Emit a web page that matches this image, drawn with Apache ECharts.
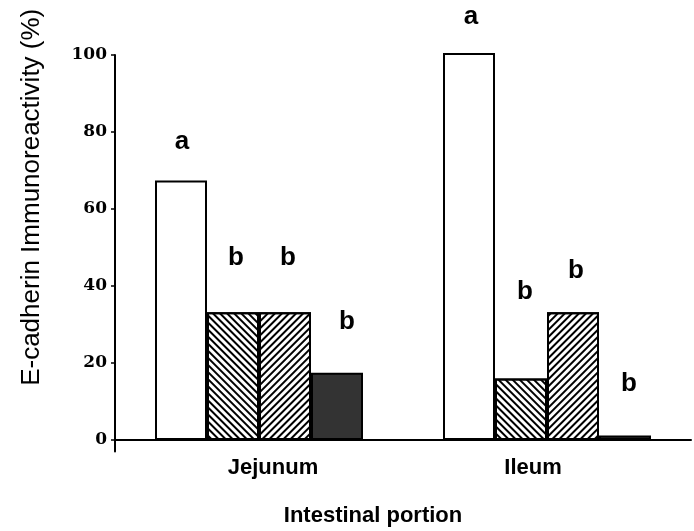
<!DOCTYPE html>
<html>
<head>
<meta charset="utf-8">
<title>E-cadherin immunoreactivity</title>
<script src="https://cdn.jsdelivr.net/npm/echarts@6/dist/echarts.min.js"></script>
<style>
  html, body { margin: 0; padding: 0; background: #ffffff; }
  #chart { width: 694px; height: 531px; }
</style>
</head>
<body>
<div id="chart"></div>
<script>
// Intestinal portions on the x axis
const portions = ['Jejunum', 'Ileum'];

// Immunoreactivity (%) per treatment group, one value per portion
const openValues = [67.4, 100.5];
const hatchDownValues = [33.2, 16.0];
const hatchUpValues = [33.2, 33.2];
const solidValues = [17.5, 1.2];

// Significance letters above each bar
const openLetters = ['a', 'a'];
const hatchDownLetters = ['b', 'b'];
const hatchUpLetters = ['b', 'b'];
const solidLetters = ['b', 'b'];

// Y axis tick values
const yTicks = [0, 20, 40, 60, 80, 100];

// Letter placement relative to the top of its bar, [dx, dy] in px
const letterOffsets = {
  open: [[1, -26], [2, -23]],
  hatchDown: [[3, -41], [4, -74]],
  hatchUp: [[3, -41], [3, -28]],
  solid: [[10, -38], [4, -39]]
};

const FONT = '"Liberation Sans", Arial, sans-serif';

function hatch(rotation) {
  return {
    symbol: 'rect',
    symbolSize: 1,
    dashArrayX: [1, 0],
    dashArrayY: [2, 3],
    rotation: rotation,
    color: '#000000'
  };
}

function barSeries(name, values, letters, offsets, fill, decal) {
  return {
    name: name,
    type: 'bar',
    barWidth: 52,
    barGap: '0%',
    clip: false,
    itemStyle: Object.assign({
      color: fill,
      borderColor: '#000000',
      borderWidth: 2
    }, decal ? { decal: decal } : {}),
    label: {
      show: true,
      position: 'top',
      distance: 0,
      fontFamily: FONT,
      fontWeight: 'bold',
      fontSize: 26,
      color: '#000000',
      formatter: function (p) { return letters[p.dataIndex]; }
    },
    emphasis: { disabled: true },
    data: values.map(function (v, i) {
      return { value: v, label: { offset: offsets[i] } };
    })
  };
}

const chart = echarts.init(document.getElementById('chart'), null, { renderer: 'canvas' });

chart.setOption({
  animation: false,
  backgroundColor: '#ffffff',
  grid: { left: 115, right: 3, top: 55, bottom: 79.4, containLabel: false, outerBoundsMode: 'none' },
  xAxis: {
    type: 'category',
    data: portions,
    axisLine: { onZero: true, lineStyle: { color: '#000000', width: 2 } },
    axisTick: { show: false },
    axisLabel: {
      margin: 5,
      formatter: function (v) { return v === 'Jejunum' ? '{j|' + v + '}' : '{i|' + v + '}'; },
      rich: {
        j: { fontFamily: FONT, fontWeight: 'bold', fontSize: 22, color: '#000', padding: [0, 0, 0, 28] },
        i: { fontFamily: FONT, fontWeight: 'bold', fontSize: 22, color: '#000', padding: [0, 28, 0, 0] }
      }
    },
    name: 'Intestinal portion',
    nameLocation: 'middle',
    nameGap: 53,
    nameTextStyle: {
      fontFamily: FONT, fontWeight: 'bold', fontSize: 22, color: '#000',
      padding: [0, 60, 0, 0]
    }
  },
  yAxis: {
    type: 'value',
    min: -3,
    max: 100,
    axisLine: { show: true, lineStyle: { color: '#000000', width: 2 } },
    axisTick: { show: true, length: 4, customValues: yTicks, lineStyle: { color: '#000', width: 1.5 } },
    splitLine: { show: false },
    axisLabel: {
      margin: 8,
      customValues: yTicks,
      fontFamily: '"DejaVu Serif", serif',
      fontWeight: 'bold',
      fontSize: 17,
      color: '#000000'
    },
    name: 'E-cadherin Immunoreactivity (%)',
    nameLocation: 'middle',
    nameGap: 70,
    nameTextStyle: {
      fontFamily: FONT, fontSize: 26, color: '#000',
      padding: [0, 0, 0, 112]
    }
  },
  series: [
    barSeries('Open', openValues, openLetters, letterOffsets.open, '#ffffff', null),
    barSeries('Hatched down', hatchDownValues, hatchDownLetters, letterOffsets.hatchDown, '#ffffff', hatch(Math.PI / 4)),
    barSeries('Hatched up', hatchUpValues, hatchUpLetters, letterOffsets.hatchUp, '#ffffff', hatch(-Math.PI / 4)),
    barSeries('Solid', solidValues, solidLetters, letterOffsets.solid, '#333333', null)
  ]
});
</script>
</body>
</html>
